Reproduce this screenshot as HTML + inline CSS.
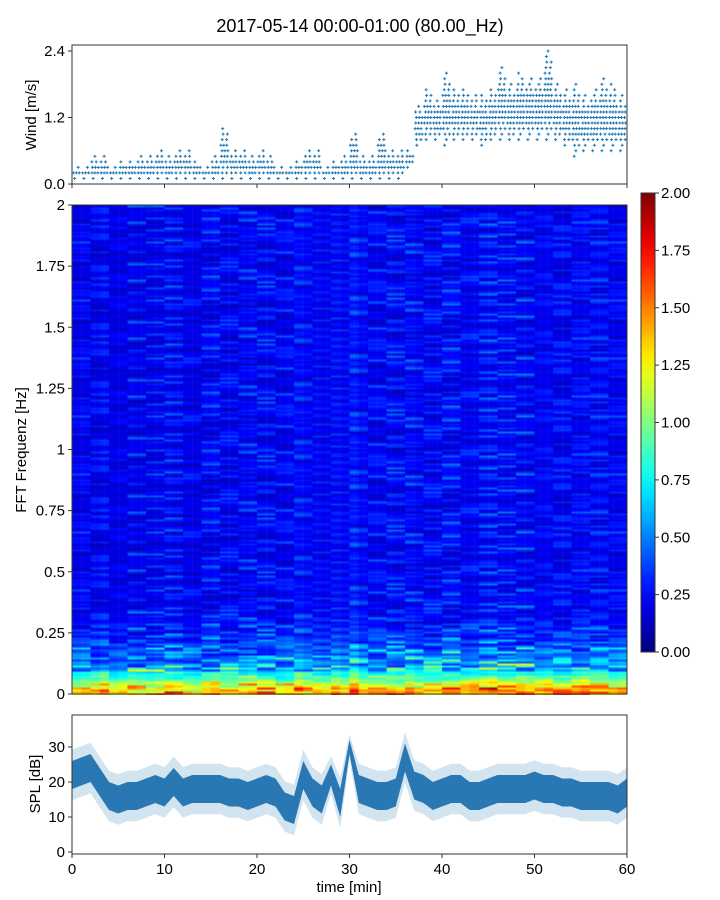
<!DOCTYPE html>
<html><head><meta charset="utf-8">
<style>
body{margin:0;background:#fff;}
#wrap{position:relative;width:720px;height:900px;overflow:hidden;font-family:"Liberation Sans","DejaVu Sans",sans-serif;}
svg{position:absolute;left:0;top:0;}
canvas{position:absolute;}
</style></head>
<body>
<div id="wrap">
<canvas id="spec" width="555" height="490" style="left:72px;top:205px;"></canvas>
<svg id="svg" width="720" height="900"></svg>
</div>
<script>
// ---------- data ----------
const minutes = Array.from({length:60},(_,i)=>i);
const windMax = [0.3,0.3,0.5,0.5,0.3,0.4,0.4,0.5,0.5,0.6,0.5,0.6,0.6,0.4,0.3,0.5,1.0,0.6,0.6,0.5,0.6,0.5,0.3,0.3,0.4,0.6,0.6,0.3,0.4,0.5,0.9,0.5,0.5,0.9,0.6,0.6,0.6,1.4,1.7,1.5,2.0,1.7,1.7,1.6,1.6,1.7,2.1,1.8,2.0,1.9,1.9,2.4,1.8,1.7,1.8,1.6,1.7,1.9,1.8,1.6];
const windMin = [0.1,0.1,0.1,0.1,0.1,0.1,0.1,0.1,0.1,0.1,0.1,0.1,0.1,0.1,0.1,0.1,0.1,0.1,0.1,0.1,0.1,0.1,0.1,0.1,0.1,0.1,0.1,0.1,0.1,0.1,0.1,0.1,0.1,0.1,0.1,0.1,0.3,0.7,0.8,0.8,0.7,0.8,0.8,0.8,0.7,0.8,0.8,0.8,0.8,0.8,0.8,0.8,0.8,0.7,0.5,0.6,0.6,0.6,0.6,0.6];
const windTicks = [0.0,1.2,2.4];
const splMean = [22,23,24,20,16,15,16,16,17,18,17,20,17,18,18,18,18,17,17,16,17,18,17,13,12,22,17,15,22,14,30,18,17,16,16,17,27,19,18,16,17,18,18,16,16,17,18,18,18,18,19,18,18,17,17,16,16,16,16,15,17];
const splSpread = [4,4,4,4,4,4,4,4,4,4,4,4,4,4,4,4,4,4,4,4,4,4,4,4,4,4,4,4,3,4,2,4,4,4,4,4,4,4,4,4,4,4,4,4,4,4,4,4,4,4,4,4,4,4,4,4,4,4,4,4,4];
const splTicks = [0,10,20,30];
const timeTicks = [0,10,20,30,40,50,60];
const freqTicks = [0,0.25,0.5,0.75,1,1.25,1.5,1.75,2];
const freqTickLabels = ["0","0.25","0.5","0.75","1","1.25","1.5","1.75","2"];
const cbTicks = [0,0.25,0.5,0.75,1,1.25,1.5,1.75,2];
const bandProfile = [1.35,1.3,1.15,1.0,0.85,0.75,0.65,0.58,0.52,0.48,0.44,0.4,0.37,0.34,0.32,0.3,0.29,0.28,0.27,0.26,0.26,0.25,0.25,0.24,0.24];
const colFactor = [1,1.05,1,1.1,0.95,1,1.05,1,0.95,1,1.05,1,1,0.95,1,1.05,1,1,1,1.05,1,1,0.95,1,1.1,1,1,0.95,1.1,1,1.2,1,1,1,1.05,1,1.1,1,1.05,1.05,1.1,1.1,1.05,1.1,1.1,1.15,1.1,1.1,1.15,1.1,1.1,1.15,1.1,1.1,1.1,1.15,1.1,1.1,1.05,1.1];
const texture = [0.7,1.2,0.85,1.4,0.55,1.0,1.25,0.8,1.7,0.75,1.1,0.9,1.35,0.6,1.05,1.5,0.8,1.15,0.65,1.3,0.95,1.9,0.85,0.5,1.0,1.2,0.9,1.1,0.7];

// ---------- helpers ----------
const NS="http://www.w3.org/2000/svg";
const svg=document.getElementById('svg');
function mk(tag,attrs,parent){const e=document.createElementNS(NS,tag);for(const k in attrs)e.setAttribute(k,attrs[k]);(parent||svg).appendChild(e);return e;}
function txt(x,y,s,size,anchor,parent,rot){const t=mk('text',{x:x,y:y,'font-size':size,'text-anchor':anchor||'middle',fill:'#000','font-family':'Liberation Sans, DejaVu Sans, sans-serif'},parent);if(rot)t.setAttribute('transform',`rotate(-90 ${x} ${y})`);t.textContent=s;return t;}
function jet(v){v=Math.max(0,Math.min(1,v));const r=Math.max(0,Math.min(1,1.5-Math.abs(4*v-3)));const g=Math.max(0,Math.min(1,1.5-Math.abs(4*v-2)));const b=Math.max(0,Math.min(1,1.5-Math.abs(4*v-1)));return `rgb(${Math.round(r*255)},${Math.round(g*255)},${Math.round(b*255)})`;}

const X0=72,X1=627;
const xT=t=>X0+(X1-X0)*t/60;
const wY=v=>184-v*(184-51)/2.4;
const sY=v=>852-v*(852-747)/30;
const fY=v=>694-v*(694-205)/2;

const title=txt(360,32,'2017-05-14 00:00-01:00 (80.00_Hz)',18);



// ---------- wind panel ----------
const gw=mk('g',{});


mk('rect',{x:X0,y:45,width:X1-X0,height:139,fill:'none',stroke:'#333','stroke-width':1},gw);
windTicks.forEach(v=>{mk('line',{x1:X0-4,x2:X0,y1:wY(v),y2:wY(v),stroke:'#333'},gw);const t=txt(X0-7,wY(v)+5,v.toFixed(1),15,'end',gw);});
timeTicks.forEach(v=>mk('line',{x1:xT(v),x2:xT(v),y1:184,y2:188,stroke:'#333'},gw));
const wl=txt(36,115,'Wind [m/s]',15,'middle',gw,true);


let pts='';
minutes.forEach(m=>{
  const lo=windMin[m],hi=windMax[m],mid=(lo+hi)/2,half=Math.max(0.1,(hi-lo)/2);
  let j=0;
  for(let lv=lo;lv<=hi+1e-6;lv+=0.1){
    const d=Math.abs(lv-mid)/half;
    const n=d>0.8?1:(d>0.5?2:3);
    for(let k=0;k<n;k++){
      const x=xT(m+((k+0.3+(j%3)*0.2)/n)*0.95);
      const y=wY(lv);
      pts+=`M${x-1.5},${y}h3M${x},${y-1.5}v3`;
    }
    j++;
  }
});
const wp=mk('path',{d:pts,stroke:'#1f77b4','stroke-width':1,fill:'none'},gw);



// ---------- spectrogram ----------
const cv=document.getElementById('spec');const ctx=cv.getContext('2d');
const NR=245,NC=120;const cw=555/NC,rh=490/NR;
const TL=texture.length;
for(let r=0;r<NR;r++){
  const bi=Math.floor(r/2);
  const base=bi<bandProfile.length?bandProfile[bi]:0.23;
  for(let c=0;c<NC;c++){
    const m=Math.min(59,Math.floor(c/2));
    const seg=Math.floor(c/4);
    let tex=texture[(r*r*3+seg*seg*5+r*seg+r*7+seg*11)%TL];
    if(bi<6) tex=0.65+0.35*tex;
    const v=base*colFactor[m]*tex;
    ctx.fillStyle=jet(v/2);
    ctx.fillRect(c*cw,490-(r+1)*rh,cw+0.5,rh+0.5);
  }
}
const gs=mk('g',{});


mk('rect',{x:X0,y:205,width:X1-X0,height:489,fill:'none',stroke:'#333'},gs);
freqTicks.forEach((v,i)=>{mk('line',{x1:X0-4,x2:X0,y1:fY(v),y2:fY(v),stroke:'#333'},gs);const t=txt(X0-7,fY(v)+5,freqTickLabels[i],15,'end',gs);});
const fl=txt(26,450,'FFT Frequenz [Hz]',15,'middle',gs,true);



// colorbar
const gc=mk('g',{});


const defs=mk('defs',{});
const lg=mk('linearGradient',{id:'jetg',x1:0,y1:1,x2:0,y2:0},defs);
for(let i=0;i<=20;i++)mk('stop',{offset:i/20,'stop-color':jet(i/20)},lg);
mk('rect',{x:641,y:193,width:14,height:459,fill:'url(#jetg)',stroke:'#333'},gc);
cbTicks.forEach(v=>{const y=652-v*459/2;mk('line',{x1:655,x2:659,y1:y,y2:y,stroke:'#333'},gc);const t=txt(661,y+5,v.toFixed(2),15,'start',gc);});

// ---------- SPL panel ----------
const gp=mk('g',{});


let up='',dn='',up2='',dn2='';
splMean.forEach((v,i)=>{const x=xT(i);up+=`${x},${sY(v+splSpread[i])} `;up2+=`${x},${sY(v+splSpread[i]*1.8)} `;});
for(let i=splMean.length-1;i>=0;i--){const x=xT(i);dn+=`${x},${sY(splMean[i]-splSpread[i])} `;dn2+=`${x},${sY(splMean[i]-splSpread[i]*1.8)} `;}
const b2=mk('polygon',{points:up2+dn2,fill:'#1f77b4','fill-opacity':0.2},gp);


const b1=mk('polygon',{points:up+dn,fill:'#2a78b3'},gp);


mk('rect',{x:X0,y:715,width:X1-X0,height:139,fill:'none',stroke:'#333'},gp);
splTicks.forEach(v=>{mk('line',{x1:X0-4,x2:X0,y1:sY(v),y2:sY(v),stroke:'#333'},gp);const t=txt(X0-7,sY(v)+5,String(v),15,'end',gp);});
timeTicks.forEach(v=>{mk('line',{x1:xT(v),x2:xT(v),y1:854,y2:858,stroke:'#333'},gp);const t=txt(xT(v),874,String(v),15,'middle',gp);});
const sl=txt(40,784,'SPL [dB]',15,'middle',gp,true);


const xl=txt(349,892,'time [min]',15,'middle',gp);


</script>
</body></html>
